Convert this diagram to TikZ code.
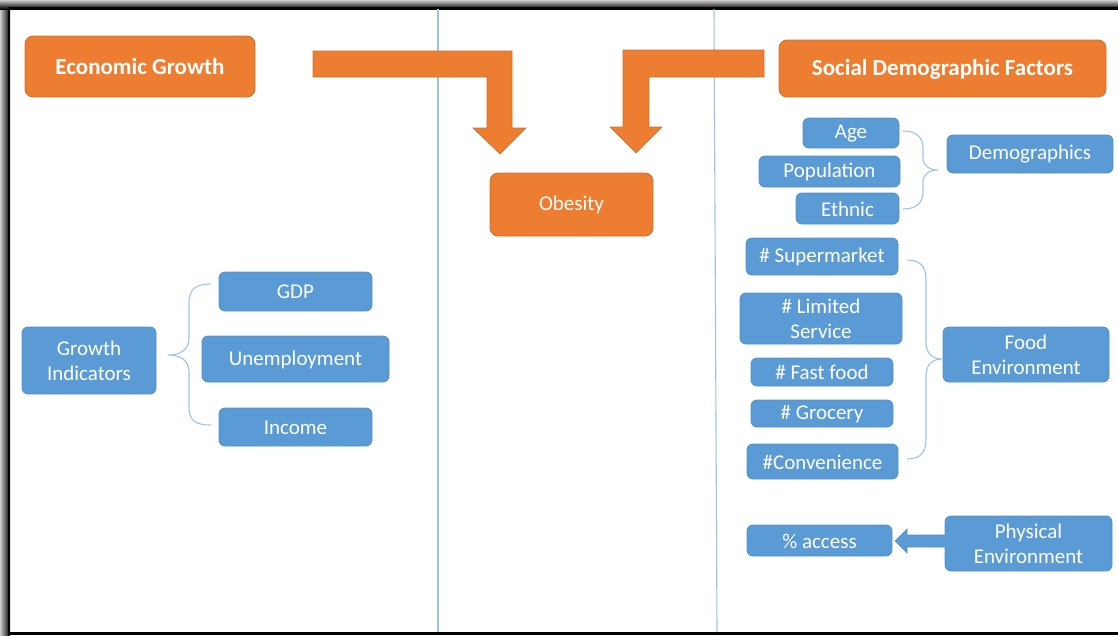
\documentclass[tikz,border=0pt]{standalone}
\usepackage{fontspec}
\setmainfont{Carlito}
\definecolor{org}{HTML}{ED7D31}
\definecolor{orgline}{HTML}{C8702F}
\definecolor{blu}{HTML}{5B9BD5}
\definecolor{bluline}{HTML}{5290C8}
\definecolor{lblu}{HTML}{9DC3E6}
\tikzset{
  obox/.style={draw=orgline, line width=0.8pt, fill=org, rounded corners=8pt, text=white, inner sep=0pt, align=center, font=\fontsize{21}{25}\selectfont},
  bbox/.style={draw=bluline, line width=0.8pt, fill=blu, rounded corners=6pt, text=white, inner sep=0pt, align=center, font=\fontsize{21}{25}\selectfont},
  brace/.style={draw=lblu, line width=1.1pt},
  vline/.style={draw=lblu, line width=1.1pt},
  bigarrow/.style={fill=org, draw=orgline, line width=0.6pt},
}
\newcommand{\boxat}[7]{% name, style, x1, y1, x2, y2, text
  \node[#2, minimum width=#5pt-#3pt, minimum height=#6pt-#4pt] (#1) at ({(#3+#5)/2},{(#4+#6)/2+1}) {};
  \node[#2, draw=none, fill=none] (#1-t) at ({(#3+#5)/2},{(#4+#6)/2+1.5}) {#7};}
\begin{document}
\begin{tikzpicture}[x=1pt,y=-1pt]
\useasboundingbox (0,0) rectangle (1118,635);
% frame
\shade[left color=gray!40, right color=black] (0,0) rectangle (10,635);
\shade[top color=gray!40, bottom color=black] (0,0) rectangle (1118,9);
\fill[black] (8,7) rectangle (1118,9);
\fill[black] (8,7) rectangle (10,635);
\fill[black] (8,632) rectangle (1118,635);
% separators
\draw[vline] (438,9) -- (438,632);
\draw[vline] (714,9) -- (717,632);
% orange boxes
\boxat{eg}{obox}{25}{35}{255}{96}{\fontsize{23}{25}\selectfont\textbf{Economic Growth}}
\boxat{sdf}{obox}{779}{39}{1106}{96}{\fontsize{23}{25}\selectfont\textbf{Social Demographic Factors}}
\boxat{ob}{obox}{490}{172}{653}{235}{Obesity}
% bent arrows
\draw[bigarrow] (313,51) -- (512,51) -- (512,128) -- (526,128) -- (500,154) -- (473,128) -- (487,128) -- (487,77) -- (313,77) -- cycle;
\draw[bigarrow] (764,50) -- (623,50) -- (623,127) -- (610,127) -- (636,153) -- (662,127) -- (649,127) -- (649,77) -- (764,77) -- cycle;
% left section
\boxat{gi}{bbox}{22}{326}{156}{393}{Growth\\Indicators}
\boxat{gdp}{bbox}{219}{271}{372}{310}{GDP}
\boxat{une}{bbox}{202}{335}{389}{381}{Unemployment}
\boxat{inc}{bbox}{219}{407}{372}{445}{Income}
\coordinate (gt) at (168,355);
\draw[brace] (211,284) .. controls (196,284) and (189,289) .. (189,303) -- (189,338) .. controls (189,350) and (180,355) .. (gt)
  .. controls (180,355) and (189,360) .. (189,372) -- (189,407) .. controls (189,421) and (196,425) .. (211,425);
% demographics
\boxat{age}{bbox}{803}{117}{899}{147}{Age}
\boxat{pop}{bbox}{759}{155}{900}{186}{Population}
\boxat{eth}{bbox}{796}{192}{899}{223}{Ethnic}
\boxat{dem}{bbox}{947}{134}{1113}{172}{Demographics}
\coordinate (dt) at (938,170);
\draw[brace] (903,131) .. controls (916,131) and (923,137) .. (923,148) -- (923,158) .. controls (923,166) and (930,170) .. (dt)
  .. controls (930,170) and (923,174) .. (923,182) -- (923,192) .. controls (923,203) and (916,209) .. (903,209);
% food environment
\boxat{sup}{bbox}{746}{237}{898}{274}{\# Supermarket}
\boxat{lim}{bbox}{740}{292}{902}{343}{\# Limited\\Service}
\boxat{ff}{bbox}{751}{357}{893}{385}{\# Fast food}
\boxat{gro}{bbox}{751}{399}{893}{426}{\# Grocery}
\boxat{con}{bbox}{747}{443}{898}{478}{\#Convenience}
\boxat{fe}{bbox}{943}{326}{1109}{381}{Food\\Environment}
\coordinate (ft) at (942,359);
\draw[brace] (907,260) .. controls (920,260) and (926,266) .. (926,280) -- (926,342) .. controls (926,353) and (932,359) .. (ft)
  .. controls (932,359) and (926,365) .. (926,376) -- (926,439) .. controls (926,453) and (920,459) .. (907,459);
% physical environment
\boxat{acc}{bbox}{747}{524}{892}{555}{\% access}
\boxat{pe}{bbox}{945}{515}{1112}{570}{Physical\\Environment}
\draw[fill=blu, draw=bluline, line width=0.6pt] (pe.west |- 0,535) -- (907,535) -- (907,529) -- (895,541) -- (907,553) -- (907,547) -- (pe.west |- 0,547) -- cycle;
\end{tikzpicture}
\end{document}
